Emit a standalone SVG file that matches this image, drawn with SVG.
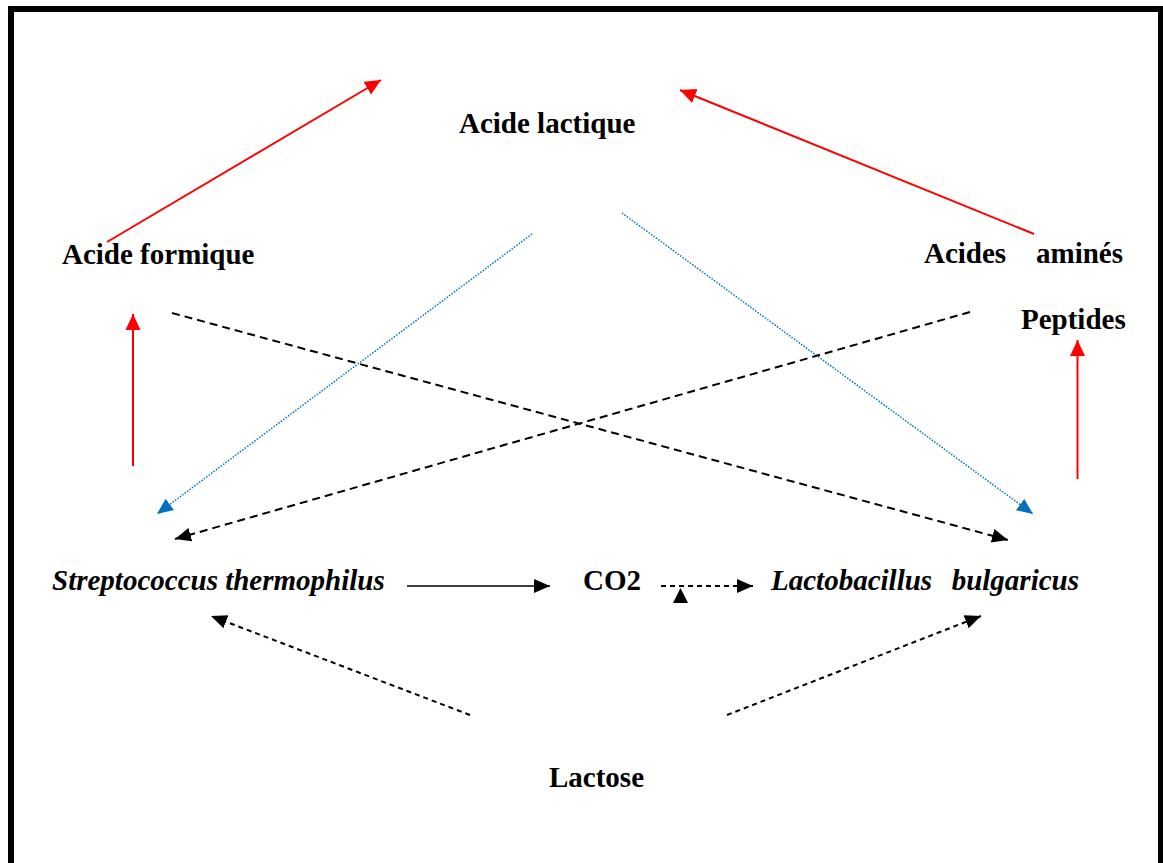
<svg xmlns="http://www.w3.org/2000/svg" width="1163" height="863" viewBox="0 0 1163 863">
<style>
  text { font-family: 'Liberation Serif', 'DejaVu Serif', serif; font-size: 29px; font-weight: bold; fill: #000; }
  .it { font-style: italic; }
  .red { stroke: #FF0000; stroke-width: 2; fill: none; }
  .blue { stroke: #0070C0; stroke-width: 1.5; stroke-dasharray: 1.5 1.5; fill: none; }
  .dash { stroke: #000; stroke-width: 2; stroke-dasharray: 8 5; fill: none; }
  .dash2 { stroke: #000; stroke-width: 2; stroke-dasharray: 5 4; fill: none; }
  .solid { stroke: #000; stroke-width: 1.5; fill: none; }
</style>
<defs>
  <marker id="ahRed" markerUnits="userSpaceOnUse" markerWidth="16" markerHeight="16" refX="16" refY="7.5" orient="auto">
    <path d="M0,0 L16,7.5 L0,15 z" fill="#FF0000"/>
  </marker>
  <marker id="ahBlue" markerUnits="userSpaceOnUse" markerWidth="16" markerHeight="16" refX="16" refY="7" orient="auto">
    <path d="M0,0 L16,7 L0,14 z" fill="#0070C0"/>
  </marker>
  <marker id="ahBlack" markerUnits="userSpaceOnUse" markerWidth="16" markerHeight="16" refX="16" refY="7" orient="auto">
    <path d="M0,0 L16,7 L0,14 z" fill="#000"/>
  </marker>
</defs>
<rect x="0" y="0" width="1163" height="863" fill="#fff"/>
<rect id="frame" x="11" y="9" width="1150" height="880" fill="none" stroke="#000" stroke-width="6"/>

<g id="connectors">
  <line class="red" x1="107" y1="242" x2="381" y2="80" marker-end="url(#ahRed)"/>
  <line class="red" x1="1034" y1="234" x2="680" y2="90" marker-end="url(#ahRed)"/>
  <line class="red" x1="133" y1="466" x2="133" y2="314" marker-end="url(#ahRed)"/>
  <line class="red" x1="1077.5" y1="479" x2="1077.5" y2="340" marker-end="url(#ahRed)"/>
  <line class="blue" x1="532" y1="234" x2="157" y2="514" marker-end="url(#ahBlue)"/>
  <line class="blue" x1="622" y1="213" x2="1033" y2="514" marker-end="url(#ahBlue)"/>
  <line class="dash" x1="172" y1="313" x2="1008" y2="540" marker-end="url(#ahBlack)"/>
  <line class="dash" x1="970" y1="312" x2="175" y2="539" marker-end="url(#ahBlack)"/>
  <line class="solid" x1="407" y1="586" x2="550" y2="586" marker-end="url(#ahBlack)"/>
  <line class="dash2" x1="661" y1="586" x2="753" y2="586" marker-end="url(#ahBlack)"/>
  <polygon points="680.5,588 673,603 688,603" fill="#000"/>
  <line class="dash2" x1="470" y1="715" x2="211" y2="616" marker-end="url(#ahBlack)"/>
  <line class="dash2" x1="727" y1="715" x2="981" y2="616" marker-end="url(#ahBlack)"/>
</g>

<g id="acide-lactique"><text x="459" y="133">Acide lactique</text></g>
<g id="acide-formique"><text x="62" y="264">Acide formique</text></g>
<g id="acides-amines"><text y="263"><tspan x="924">Acides</tspan><tspan x="1123" text-anchor="end">aminés</tspan></text></g>
<g id="peptides"><text x="1021" y="329">Peptides</text></g>
<g id="streptococcus"><text class="it" x="52" y="590">Streptococcus thermophilus</text></g>
<g id="co2"><text x="583" y="590">CO2</text></g>
<g id="lactobacillus"><text class="it" y="590"><tspan x="771">Lactobacillus</tspan><tspan x="1079" text-anchor="end">bulgaricus</tspan></text></g>
<g id="lactose"><text x="549" y="787">Lactose</text></g>
</svg>
